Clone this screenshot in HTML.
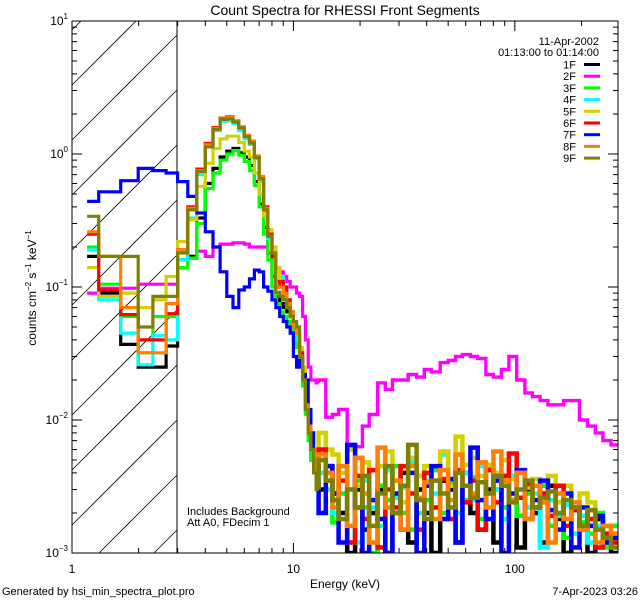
<!DOCTYPE html>
<html><head><meta charset="utf-8"><style>
html,body{margin:0;padding:0;background:#fff;width:640px;height:600px;overflow:hidden;}
svg{display:block;font-family:"Liberation Sans",sans-serif;overflow:hidden;}
</style></head><body>
<svg id="chart" width="640" height="600" viewBox="0 0 640 600">
<text x="345" y="15" font-size="14" text-anchor="middle">Count Spectra for RHESSI Front Segments</text>
<text x="345" y="588" font-size="12" text-anchor="middle">Energy (keV)</text>
<text transform="translate(36,288) rotate(-90)" font-size="12" text-anchor="middle">counts cm<tspan font-size="8" dy="-5">−2</tspan><tspan dy="5"> s</tspan><tspan font-size="8" dy="-5">−1</tspan><tspan dy="5"> keV</tspan><tspan font-size="8" dy="-5">−1</tspan></text>
<text x="2" y="595" font-size="11">Generated by hsi_min_spectra_plot.pro</text>
<text x="638" y="595" font-size="11" text-anchor="end">7-Apr-2023 03:26</text>
<text x="187" y="515" font-size="11">Includes Background</text>
<text x="187" y="526" font-size="11">Att A0, FDecim 1</text>
<g id="legend">
<text x="599" y="45" font-size="11" text-anchor="end">11-Apr-2002</text>
<text x="599" y="56" font-size="11" text-anchor="end">01:13:00 to 01:14:00</text>
</g>
<defs><clipPath id="plotclip"><rect x="72" y="21" width="546" height="532"/></clipPath></defs>
<g id="hatch"></g>
<line x1="177" y1="21" x2="177" y2="553" stroke="#000" stroke-width="1"/>
<g id="series" clip-path="url(#plotclip)"></g>
<g id="axes"></g>
</svg>
<script>
// ---- data ----
const lowEdges = [1.17,1.32,1.66,1.99,2.32,2.66,3.0];
const midEdges = [3.0,3.333,3.667,4.0,4.333,4.667,5.0,5.333,5.667,6.0,6.333,6.667,7.0,7.333,7.667,8.0,8.333,8.667,9.0,9.333,9.667,10.0,10.333,10.667,11.0,11.333,11.667,12.0,12.333,12.667,13.0];
const highEdges = [13,14,15,16,17.5,19,20.5,22,24,26,28,30.5,33,36,39,42,46,50,54,58,63,68,74,80,87,94,102,111,120,130,141,153,166,180,196,213,231,250,272,300];
const seriesNames = ["1F","2F","3F","4F","5F","6F","7F","8F","9F"];
const seriesColors = ["#000000","#ff00ff","#00ff00","#00ffff","#d4d000","#ff0000","#0000ff","#ff8000","#808000"];

const low1F = [0.17,0.09,0.037,0.025,0.025,0.036];
const low2F = [0.09,0.098,0.098,0.105,0.105,0.105];
const low3F = [0.2,0.105,0.06,0.032,0.06,0.06];
const low4F = [0.19,0.08,0.045,0.026,0.043,0.04];
const low5F = [0.14,0.085,0.09,0.07,0.08,0.12];
const low6F = [0.25,0.095,0.062,0.04,0.04,0.063];
const low7F = [0.44,0.52,0.63,0.78,0.75,0.72];
const low8F = [0.26,0.17,0.07,0.032,0.032,0.075];
const low9F = [0.34,0.17,0.17,0.05,0.085,0.085];

const mid1F = [0.16,0.17,0.33,0.6,0.78,0.95,1.05,1.1,1.02,0.95,0.82,0.62,0.42,0.28,0.18,0.12,0.085,0.075,0.07,0.065,0.06,0.045,0.04,0.03,0.02,0.012,0.008,0.005,0.004,0.003];
const mid2F = [0.14,0.165,0.186,0.17,0.2,0.21,0.21,0.215,0.215,0.21,0.2,0.2,0.2,0.2,0.18,0.18,0.14,0.13,0.12,0.11,0.1,0.1,0.09,0.085,0.06,0.04,0.025,0.02,0.02,0.019];
const mid3F = [0.14,0.165,0.3,0.55,0.72,0.9,1.0,1.06,0.98,0.88,0.75,0.58,0.4,0.25,0.16,0.1,0.075,0.065,0.06,0.055,0.05,0.04,0.035,0.028,0.018,0.011,0.007,0.005,0.004,0.003];
const mid4F = [0.16,0.33,0.7,1.15,1.5,1.76,1.78,1.7,1.5,1.3,1.18,0.92,0.62,0.37,0.23,0.17,0.11,0.12,0.1,0.08,0.065,0.05,0.04,0.03,0.02,0.012,0.008,0.006,0.004,0.003];
const mid5F = [0.22,0.32,0.57,0.85,1.1,1.3,1.36,1.36,1.22,1.05,0.95,0.72,0.5,0.34,0.27,0.2,0.14,0.11,0.09,0.07,0.06,0.05,0.045,0.035,0.025,0.015,0.01,0.008,0.006,0.005];
const mid6F = [0.19,0.4,0.77,1.2,1.58,1.86,1.9,1.76,1.58,1.36,1.22,0.95,0.66,0.4,0.25,0.17,0.1,0.11,0.1,0.08,0.065,0.05,0.045,0.032,0.02,0.013,0.009,0.006,0.005,0.004];
const mid7F = [0.62,0.48,0.36,0.26,0.2,0.13,0.085,0.07,0.095,0.1,0.115,0.134,0.13,0.1,0.093,0.08,0.07,0.06,0.055,0.05,0.045,0.03,0.025,0.028,0.022,0.02,0.012,0.008,0.005,0.0035];
const mid8F = [0.19,0.39,0.75,1.17,1.56,1.84,1.88,1.78,1.6,1.38,1.25,0.97,0.68,0.39,0.24,0.18,0.1,0.1,0.09,0.075,0.065,0.05,0.045,0.03,0.02,0.013,0.009,0.006,0.005,0.004];
const mid9F = [0.18,0.38,0.74,1.13,1.53,1.82,1.84,1.74,1.57,1.35,1.21,0.94,0.65,0.38,0.24,0.18,0.091,0.085,0.08,0.07,0.06,0.055,0.05,0.03,0.02,0.012,0.008,0.006,0.004,0.003];

const high1F = [0.003,0.004,0.0025,0.002,0.0008,0.003,0.0015,0.002,0.003,0.0009,0.002,0.004,0.0012,0.003,0.002,0.0009,0.0035,0.003,0.0012,0.004,0.002,0.0015,0.003,0.0012,0.0035,0.0025,0.0011,0.003,0.002,0.0012,0.0032,0.0018,0.001,0.0022,0.0015,0.0009,0.0018,0.0012,0.001];
const high2F = [0.02,0.0105,0.011,0.012,0.0063,0.0063,0.009,0.011,0.019,0.017,0.02,0.02,0.022,0.021,0.024,0.023,0.027,0.028,0.03,0.031,0.03,0.029,0.022,0.021,0.024,0.03,0.02,0.016,0.015,0.014,0.013,0.013,0.014,0.014,0.01,0.009,0.008,0.007,0.0065];
const high3F = [0.005,0.0035,0.0017,0.0028,0.0012,0.0035,0.0022,0.0009,0.0032,0.0025,0.0045,0.002,0.0015,0.0038,0.0025,0.0042,0.002,0.0034,0.0055,0.0025,0.0037,0.0018,0.0045,0.003,0.0022,0.0036,0.0019,0.0028,0.0022,0.0032,0.0016,0.0024,0.0013,0.0021,0.0017,0.0014,0.002,0.0011,0.0016];
const high4F = [0.004,0.003,0.002,0.0045,0.003,0.0012,0.0035,0.0022,0.0016,0.0042,0.0026,0.0031,0.0048,0.002,0.0035,0.0028,0.0055,0.0032,0.002,0.004,0.0025,0.0045,0.0028,0.003,0.0018,0.0038,0.0026,0.0022,0.0028,0.0011,0.0025,0.0019,0.0023,0.0014,0.0019,0.0012,0.0016,0.0013,0.0012];
const high5F = [0.008,0.006,0.0055,0.004,0.006,0.0032,0.0048,0.0025,0.0045,0.0058,0.0035,0.0024,0.0052,0.0038,0.0045,0.0035,0.0058,0.0032,0.0075,0.0046,0.0052,0.0038,0.0046,0.004,0.005,0.0036,0.0042,0.0031,0.0036,0.0028,0.0038,0.0024,0.0032,0.0022,0.0028,0.0024,0.0019,0.0016,0.0014];
const high6F = [0.006,0.0045,0.0028,0.0035,0.0012,0.0038,0.0018,0.0042,0.0011,0.003,0.0022,0.0045,0.0028,0.0015,0.004,0.0022,0.0036,0.0018,0.0042,0.0024,0.0035,0.0015,0.0042,0.0024,0.0038,0.0056,0.0026,0.0033,0.0022,0.0028,0.0019,0.0032,0.0016,0.0021,0.0015,0.0018,0.0011,0.0014,0.0012];
const high7F = [0.002,0.0045,0.0028,0.0012,0.0065,0.0022,0.001,0.0025,0.0018,0.0008,0.0028,0.0015,0.004,0.0009,0.0032,0.0045,0.0018,0.0036,0.0012,0.0032,0.0062,0.0025,0.0018,0.0035,0.0009,0.0028,0.0042,0.0018,0.0025,0.0035,0.0021,0.0015,0.0028,0.0011,0.0022,0.0016,0.0019,0.0012,0.0013];
const high8F = [0.0055,0.004,0.0022,0.0045,0.0016,0.0052,0.0028,0.0012,0.0062,0.0022,0.0035,0.0015,0.0045,0.0026,0.0034,0.0018,0.0042,0.0025,0.0055,0.0032,0.0028,0.0048,0.0022,0.0058,0.0035,0.0025,0.004,0.0018,0.0032,0.0024,0.0012,0.0028,0.0018,0.0024,0.0015,0.0021,0.0012,0.0016,0.0014];
const high9F = [0.005,0.0035,0.0025,0.0018,0.003,0.0022,0.0038,0.0016,0.0028,0.0045,0.002,0.0032,0.0065,0.0025,0.0018,0.0035,0.0028,0.0022,0.004,0.0032,0.0026,0.0034,0.0028,0.0038,0.0032,0.0024,0.003,0.0035,0.0022,0.0026,0.0029,0.002,0.0025,0.0022,0.0016,0.0021,0.0015,0.0013,0.0011];

const xTickValues = [1,10,100];
const xTickLabels = ["1","10","100"];
const yTickExponents = [1,0,-1,-2,-3];

const lowSets = [low1F,low2F,low3F,low4F,low5F,low6F,low7F,low8F,low9F];
const midSets = [mid1F,mid2F,mid3F,mid4F,mid5F,mid6F,mid7F,mid8F,mid9F];
const highSets = [high1F,high2F,high3F,high4F,high5F,high6F,high7F,high8F,high9F];

// ---- axes ----
const X0 = 72, X1 = 618, Y0 = 21, Y1 = 553;
const XMAX_LOG = 2.466;
function xs(e){ return X0 + Math.log10(e) / XMAX_LOG * (X1 - X0); }
function ys(v){ return Y0 + (1 - Math.log10(v)) / 4 * (Y1 - Y0); }
function yc(v){ return Math.max(Y0, Math.min(ys(v), Y1)); }
const NS = "http://www.w3.org/2000/svg";
function mk(tag, attrs, parent){ const el = document.createElementNS(NS, tag); for (const k in attrs) el.setAttribute(k, attrs[k]); parent.appendChild(el); return el; }

// hatch (lines x+y=c clipped analytically to hatch box)
const hatch = document.getElementById('hatch');
const HX1 = 177;
for (let k = -1; k < 14; k++) {
  const c = 102 + 55 * k;
  const xa = Math.max(X0, c - Y1), xb = Math.min(HX1, c - Y0);
  if (xb <= xa) continue;
  const ln = mk('line', {x1: xa, y1: c - xa, x2: xb, y2: c - xb, stroke: '#000', 'stroke-width': 0.8}, hatch);
  
  
}

// series
const sg = document.getElementById('series');
function stepPath(edgeArr, valArr, start){
  let d = '';
  for (let i = 0; i < valArr.length; i++) {
    const y = yc(valArr[i]);
    d += ((i === 0 && start) ? 'M' : 'L') + xs(edgeArr[i]).toFixed(1) + ',' + y.toFixed(1) + 'L' + xs(edgeArr[i + 1]).toFixed(1) + ',' + y.toFixed(1);
  }
  return d;
}
for (let s = 0; s < seriesNames.length; s++) {
  const d1 = stepPath(lowEdges, lowSets[s], true) + stepPath(midEdges, midSets[s], false);
  const g = mk('g', {}, sg);
  
  
  const p = mk('path', {d: d1, fill: 'none', stroke: seriesColors[s], 'stroke-width': 3.2}, g);
  
  
  const lastMid = midSets[s][midSets[s].length - 1];
  const d2 = 'M' + xs(13).toFixed(1) + ',' + yc(lastMid).toFixed(1) + stepPath(highEdges, highSets[s], false);
  const q = mk('path', {d: d2, fill: 'none', stroke: seriesColors[s], 'stroke-width': s === 1 ? 3.4 : 4.5}, g);
  
  
}

// legend entries
const lg = document.getElementById('legend');
seriesNames.forEach((n, i) => {
  const y = 64.5 + i * 11.7;
  const t = mk('text', {x: 576, y: y + 4, 'font-size': 11, 'text-anchor': 'end'}, lg);
  t.textContent = n;
  
  
  const l = mk('line', {x1: 584, y1: y, x2: 600, y2: y, stroke: seriesColors[i], 'stroke-width': 3}, lg);
  
  
});

// axes frame and ticks
const ax = document.getElementById('axes');
const frame = mk('rect', {x: X0, y: Y0, width: X1 - X0, height: Y1 - Y0, fill: 'none', stroke: '#000', 'stroke-width': 1}, ax);


let td = '';
for (let dec = 1; dec <= 100; dec *= 10) {
  for (let m = 1; m <= 9; m++) {
    const e = dec * m; if (Math.log10(e) > XMAX_LOG) continue;
    const x = xs(e); const len = m === 1 ? 10 : 5;
    td += `M${x},${Y1}v${-len}M${x},${Y0}v${len}`;
  }
}
for (let ex = -3; ex <= 0; ex++) {
  for (let m = 1; m <= 9; m++) {
    const v = Math.pow(10, ex) * m; const y = ys(v); const len = m === 1 ? 10 : 5;
    td += `M${X0},${y}h${len}M${X1},${y}h${-len}`;
  }
}
const ticks = mk('path', {d: td, stroke: '#000', 'stroke-width': 1, fill: 'none'}, ax);


xTickValues.forEach((v, i) => {
  const t = mk('text', {x: xs(v), y: 573, 'font-size': 12, 'text-anchor': 'middle'}, ax);
  t.textContent = xTickLabels[i];
  
  
});
yTickExponents.forEach(ex => {
  const y = ys(Math.pow(10, ex));
  const t = mk('text', {x: 68, y: y + 4, 'font-size': 12, 'text-anchor': 'end'}, ax);
  const a = document.createElementNS(NS, 'tspan'); a.textContent = '10'; t.appendChild(a);
  const b = document.createElementNS(NS, 'tspan'); b.setAttribute('font-size', '8'); b.setAttribute('dy', '-6');
  b.textContent = ex < 0 ? '−' + (-ex) : String(ex); t.appendChild(b);
  
  
});
</script>
</body></html>
